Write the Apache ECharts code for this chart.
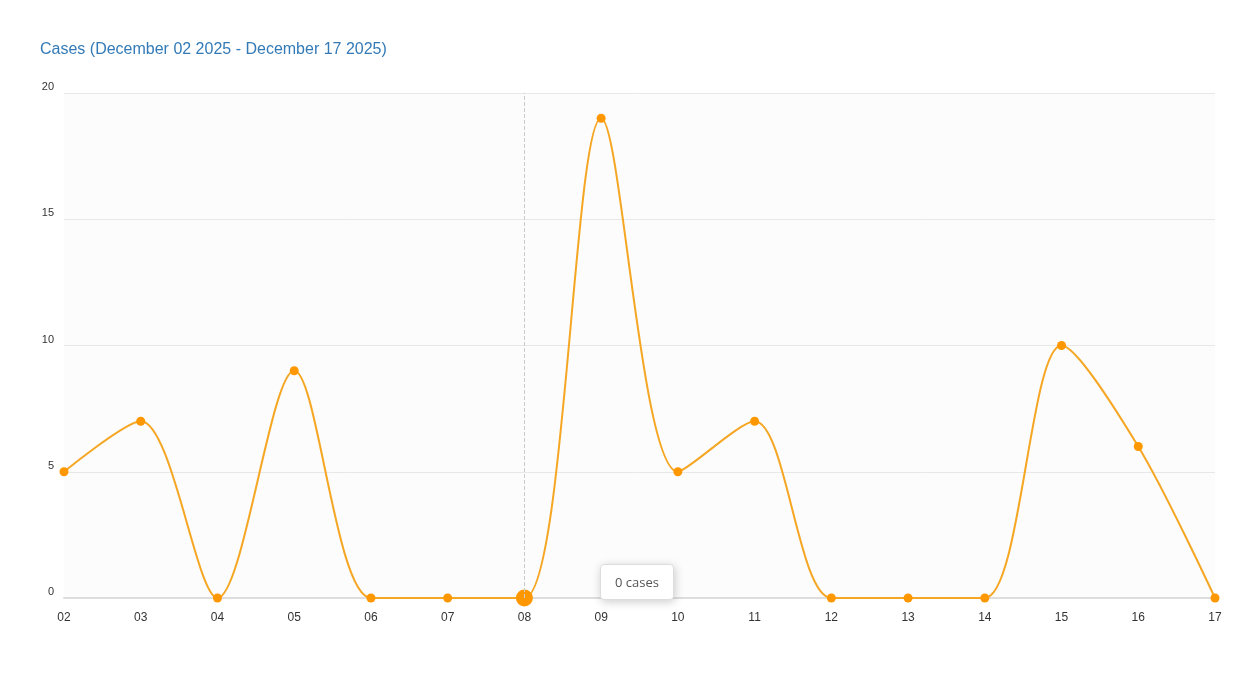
<!DOCTYPE html>
<html>
<head>
<meta charset="utf-8">
<script src="https://cdn.jsdelivr.net/npm/echarts@6/dist/echarts.min.js"></script>
<style>
html,body{margin:0;padding:0;background:#fff;}
#chart{width:1257px;height:690px;}
</style>
</head>
<body>
<div id="chart"></div>
<script>
var days = ['02','03','04','05','06','07','08','09','10','11','12','13','14','15','16','17'];
var cases = [5,7,0,9,0,0,0,19,5,7,0,0,0,10,6,0];
var yTicks = [0,5,10,15,20];

var myChart = echarts.init(document.getElementById('chart'));
var option = {
    animation: false,
    textStyle: {fontFamily: 'Liberation Sans'},
    title: {
        text: 'Cases (December 02 2025 - December 17 2025)',
        left: 35, top: 37,
        textStyle: {color: '#337ab7', fontSize: 16, fontWeight: 'normal', fontFamily: 'Liberation Sans'}
    },
    tooltip: {
        trigger: 'item',
        alwaysShowContent: true,
        backgroundColor: '#fff',
        borderColor: '#ddd',
        padding: [7, 14],
        textStyle: {color: '#555', fontSize: 13, fontFamily: 'Open Sans'},
        formatter: function (p) { return p.value + ' cases'; },
        position: function (pt) { return [pt[0] + 76, pt[1] - 34]; }
    },
    grid: {left: 64, right: 42, top: 93, bottom: 92},
    xAxis: {
        type: 'category',
        data: days,
        boundaryGap: false,
        axisLine: {lineStyle: {color: '#ddd', width: 2}},
        axisTick: {show: false},
        axisLabel: {color: '#333', fontSize: 12, margin: 14}
    },
    yAxis: {
        type: 'value',
        min: yTicks[0], max: yTicks[yTicks.length - 1], interval: 5,
        axisLabel: {color: '#333', fontSize: 11, margin: 10, verticalAlign: 'bottom', lineHeight: 12},
        splitLine: {lineStyle: {color: '#e8e8e8'}},
        splitArea: {show: true, areaStyle: {color: ['#fcfcfc', '#fcfcfc']}}
    },
    series: [{
        type: 'line',
        data: cases,
        smooth: 0.3,
        symbol: 'circle',
        symbolSize: function (v, p) { return p.dataIndex === 6 ? 17 : 9; },
        lineStyle: {color: '#f5a623', width: 2},
        itemStyle: {color: '#ff9800'},
        emphasis: {disabled: true},
        markLine: {
            silent: true, symbol: 'none', label: {show: false},
            lineStyle: {color: '#ccc', type: 'dashed', width: 1},
            data: [{xAxis: days[6]}]
        }
    }]
};
myChart.setOption(option);
myChart.dispatchAction({type: 'showTip', seriesIndex: 0, dataIndex: 6});
</script>
</body>
</html>
